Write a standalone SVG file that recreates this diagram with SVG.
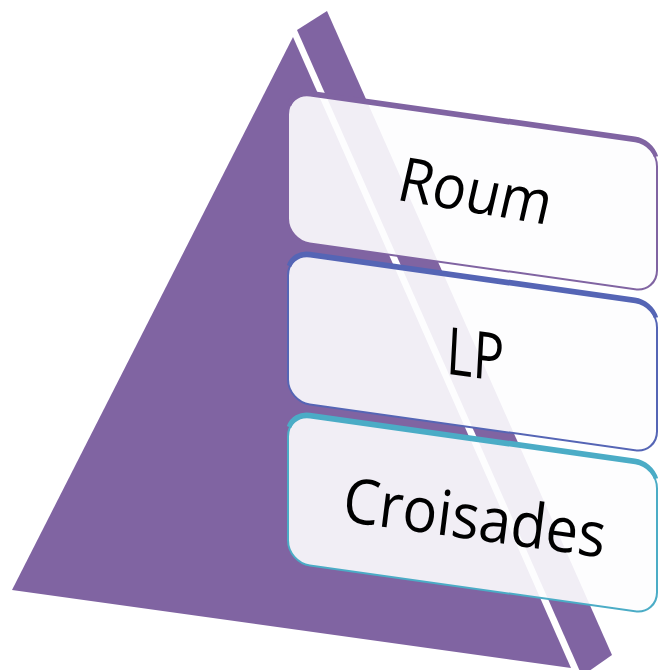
<svg xmlns="http://www.w3.org/2000/svg" width="660" height="670" viewBox="0 0 660 670">
  <style>
    .face { fill: #8064a2; }
    .boxfill { fill: #fdfdfe; fill-opacity: 0.9; stroke-width: 2; }
    .band { fill: none; stroke-width: 4.5; stroke-linecap: butt; }
    .lbl { font-family: "Open Sans", "Noto Sans", "Liberation Sans", sans-serif; font-size: 62px; fill: #000000; text-anchor: middle; }
  </style>
  <rect x="0" y="0" width="660" height="670" fill="#ffffff"/>
  <g id="pyramid">
    <polygon class="face" points="293,37 12,590 571,668"/>
    <polygon class="face" points="297,30 327,11 612,655 582,676"/>
  </g>
  <g id="connectors"/>
  <g transform="matrix(1,0.1405,0,1,0,0)">
    <g id="node-roum">
      <rect class="boxfill" x="288" y="52" width="369" height="148" rx="22" ry="22" stroke="#8064a2"/>
      <path class="band" stroke="#8064a2" d="M289,66 A22,22 0 0 1 310,51 L635,51 A22,22 0 0 1 656,66" transform="translate(0,-1.5)"/>
      <text class="lbl" transform="translate(471,146) rotate(1.5) skewX(-11)" textLength="152" lengthAdjust="spacingAndGlyphs">Roum</text>
    </g>
    <g id="node-lp">
      <rect class="boxfill" x="288" y="213" width="369" height="148" rx="22" ry="22" stroke="#5565b5"/>
      <path class="band" stroke="#5565b5" d="M289,227 A22,22 0 0 1 310,212 L635,212 A22,22 0 0 1 656,227" transform="translate(0,-1.5)"/>
      <text class="lbl" transform="translate(474,311) skewX(-3)" style="font-size:66px" textLength="57" lengthAdjust="spacingAndGlyphs">LP</text>
    </g>
    <g id="node-croisades">
      <rect class="boxfill" x="288" y="374" width="369" height="148" rx="22" ry="22" stroke="#4bacc6"/>
      <path class="band" stroke="#4bacc6" d="M289,388 A22,22 0 0 1 310,373 L635,373 A22,22 0 0 1 656,388" transform="translate(0,-1.5)"/>
      <text class="lbl" transform="translate(472,473) skewX(-7)" style="font-size:63px" textLength="262" lengthAdjust="spacingAndGlyphs">Croisades</text>
    </g>
  </g>
</svg>
